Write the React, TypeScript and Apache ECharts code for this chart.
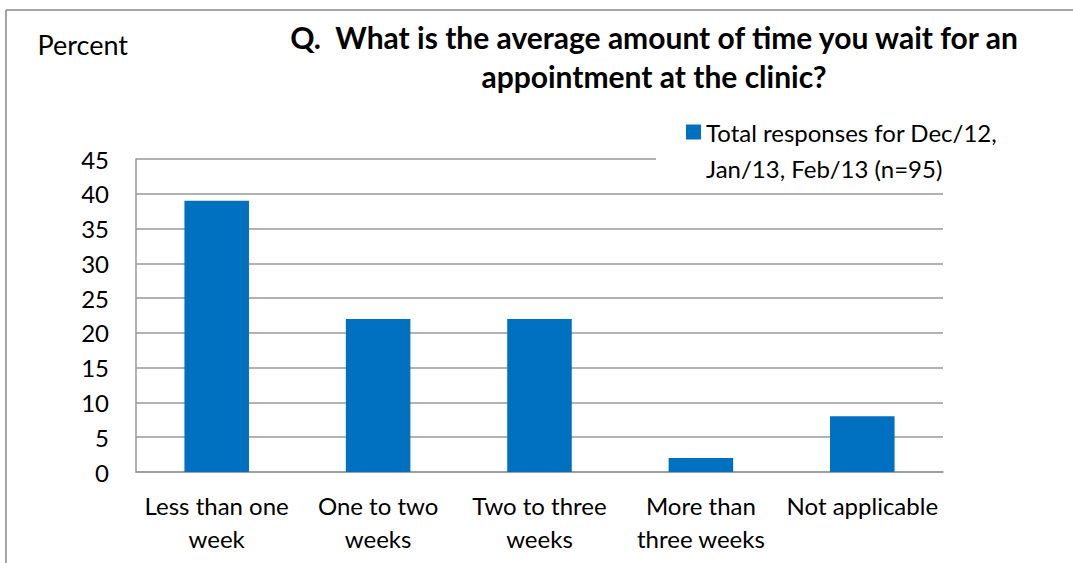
import React, { useEffect, useRef } from "react";
import * as echarts from "echarts";

const categories = [
  "Less than one\nweek",
  "One to two\nweeks",
  "Two to three\nweeks",
  "More than\nthree weeks",
  "Not applicable",
];
const values = [39, 22, 22, 2, 8];
const seriesName = "Total responses for Dec/12, Jan/13, Feb/13 (n=95)";
const legendLines = ["Total responses for Dec/12,", "Jan/13, Feb/13 (n=95)"];
const titleLines = [
  "Q.  What is the average amount of time you wait for an",
  "appointment at the clinic?",
];
const yAxisName = "Percent";

const FONT = "Lato, 'Open Sans', sans-serif";

export default function App() {
  const ref = useRef<HTMLDivElement>(null);
  useEffect(() => {
    if (!ref.current) return;
    const chart = echarts.init(ref.current, undefined, { renderer: "svg" });
    chart.setOption({
      animation: false,
      backgroundColor: "#ffffff",
      textStyle: { fontFamily: FONT },
      title: {
        text: titleLines.join("\n"),
        left: 654,
        top: 17,
        padding: 0,
        textAlign: "center",
        textStyle: {
          fontFamily: FONT,
          fontSize: 30,
          fontWeight: "bold",
          color: "#000",
          lineHeight: 39,
        },
      },
      legend: {
        left: 656,
        top: 78,
        padding: [0, 10, 2, 30],
        itemWidth: 15,
        itemHeight: 15,
        itemGap: 6,
        icon: "rect",
        formatter: () => "\n" + legendLines.join("\n"),
        textStyle: {
          fontFamily: FONT,
          fontSize: 24,
          color: "#000",
          lineHeight: 36,
        },
        data: [seriesName],
        z: 10,
      },
      graphic: [
        {
          type: "line",
          shape: { x1: 6, y1: 10, x2: 1080, y2: 10 },
          style: { stroke: "#888", lineWidth: 1.5 },
          silent: true,
          z: -1,
        },
        {
          type: "line",
          shape: { x1: 6, y1: 10, x2: 6, y2: 570 },
          style: { stroke: "#888", lineWidth: 1.5 },
          silent: true,
          z: -1,
        },
        {
          type: "rect",
          left: 656,
          top: 154,
          shape: { x: 0, y: 0, width: 300, height: 10 },
          style: { fill: "#ffffff" },
          silent: true,
          z: 5,
        },
      ],
      grid: { left: 136, right: 130, top: 159, bottom: 91 },
      xAxis: {
        type: "category",
        data: categories,
        axisLine: { show: true, lineStyle: { color: "#999", width: 1.5 } },
        axisTick: { show: false },
        axisLabel: {
          color: "#000",
          fontFamily: FONT,
          fontSize: 24,
          lineHeight: 33,
          margin: 17,
          interval: 0,
        },
      },
      yAxis: {
        type: "value",
        min: 0,
        max: 45,
        interval: 5,
        name: yAxisName,
        nameLocation: "end",
        nameGap: 101,
        nameTextStyle: {
          align: "right",
          padding: [0, 8, 0, 0],
          color: "#000",
          fontFamily: FONT,
          fontSize: 27,
        },
        axisLine: { show: true, lineStyle: { color: "#999", width: 1.5 } },
        axisTick: { show: false },
        axisLabel: {
          color: "#000",
          fontFamily: FONT,
          fontSize: 24,
          margin: 27,
        },
        splitLine: { lineStyle: { color: "#999", width: 1.5 } },
      },
      series: [
        {
          name: seriesName,
          type: "bar",
          data: values,
          barWidth: "40%",
          itemStyle: { color: "#0070C0" },
        },
      ],
    });
    return () => chart.dispose();
  }, []);
  return (
    <div
      ref={ref}
      style={{ position: "fixed", left: 0, top: 0, width: 1073, height: 563 }}
    />
  );
}
